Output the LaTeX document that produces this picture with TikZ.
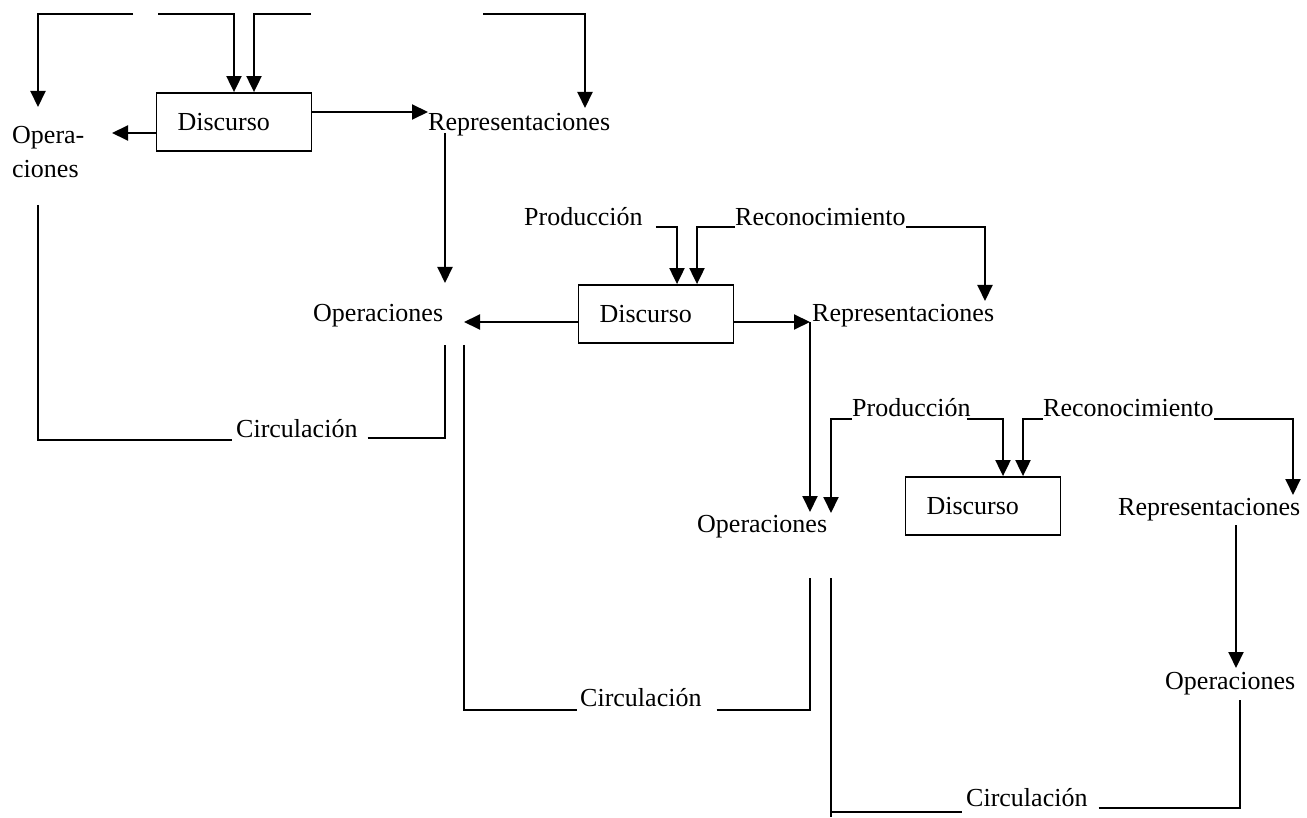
\documentclass[tikz,border=0pt]{standalone}
\usepackage{fontspec}
\setmainfont{Liberation Serif}
\usetikzlibrary{arrows.meta}

\begin{document}
\begin{tikzpicture}[x=1pt, y=-1pt, font=\fontsize{26}{32}\selectfont,
	box/.style={draw, line width=1.8pt, text width=113pt, inner xsep=21pt, inner ysep=0, minimum height=58pt, align=left},
	txt/.style={inner sep=0, anchor=base west},
	arr/.style={-{Triangle[length=16pt, width=15pt]}, line width=2pt},
	ln/.style={line width=1.8pt}]
	
	\useasboundingbox (0,0) rectangle (1307,818);
	
	% primer nivel
	% modules
	\node[box] (d1) at (234,122) {Discurso};
	\node[txt] (rep1) at (428,131) {Representaciones};
	\node[inner sep=0, anchor=north west, align=left, font=\fontsize{26}{34}\selectfont] (op1) at (12,126) {Opera-\\ciones};
	\node[txt] (circ1) at (236,437) {Circulación};
	% lines
	\coordinate (t1) at (133,14);
	\coordinate (t2) at (158,14);
	\coordinate (t3) at (311,14);
	\coordinate (t4) at (483,14);
	\coordinate (op1in) at (38,107);
	\coordinate (op1l) at (112,133);
	\coordinate (op1out) at (38,205);
	\coordinate (rep1in) at (585,108);
	\coordinate (rep1out) at (445,133);
	
	\draw [arr] (t1) -| (op1in);
	\draw [arr] (t2) -| (d1.north);
	\draw [arr] (t3) -| ([xshift=20pt]d1.north);
	\draw [arr] (t4) -| (rep1in);
	\draw [arr] ([yshift=10pt]d1.east) -- ([yshift=10pt]d1.east -| rep1.west);
	\draw [arr] ([yshift=-11pt]d1.west) -- (op1l);
	
	% segundo nivel
	% modules
	\node[box] (d2) at (656,314) {Discurso};
	\node[txt] (op2) at (313,322) {Operaciones};
	\node[txt] (rep2) at (812,322) {Representaciones};
	\node[txt] (prod2) at (524,226) {Producción};
	\node[txt] (rec2) at (735,226) {Reconocimiento};
	\node[txt] (circ2) at (580,706) {Circulación};
	% lines
	\coordinate (op2in) at (445,283);
	\coordinate (op2l) at (464,322);
	\coordinate (op2out) at (445,345);
	\coordinate (op2out2) at (464,345);
	\coordinate (rep2in) at (985,301);
	\coordinate (rep2out) at (810,322);
	
	\draw [arr] (rep1out) -- (op2in);
	\draw [ln] (op1out) |- ([xshift=-4pt, yshift=-3pt]circ1.base west);
	\draw [ln] ([xshift=10pt, yshift=-1pt]circ1.base east) -| (op2out);
	
	\draw [arr] ([xshift=13pt, yshift=-1pt]prod2.base east) -| ([xshift=21pt]d2.north);
	\draw [arr] ([yshift=-1pt]rec2.base west) -| ([xshift=41pt]d2.north);
	\draw [arr] ([yshift=-1pt]rec2.base east) -| (rep2in);
	\draw [arr] ([yshift=-8pt]d2.west) -- (op2l);
	\draw [arr] ([yshift=-8pt]d2.east) -- (rep2out);
	
	% tercer nivel
	% modules
	\node[box] (d3) at (983,506) {Discurso};
	\node[txt] (op3) at (697,532) {Operaciones};
	\node[txt] (rep3) at (1118,515) {Representaciones};
	\node[txt] (prod3) at (852,416) {Producción};
	\node[txt] (rec3) at (1043,416) {Reconocimiento};
	\node[txt] (op4) at (1165,689) {Operaciones};
	\node[txt] (circ3) at (966,806) {Circulación};
	% lines
	\coordinate (op3in) at (810,512);
	\coordinate (op3in2) at (831,513);
	\coordinate (op3out) at (810,578);
	\coordinate (op3out2) at (831,578);
	\coordinate (op3end) at (831,817);
	\coordinate (rep3in) at (1293,495);
	\coordinate (rep3out) at (1236,525);
	\coordinate (op4in) at (1236,668);
	\coordinate (op4out) at (1240,700);
	
	\draw [arr] (rep2out) -- (op3in);
	\draw [ln] (op2out2) |- ([xshift=-3pt, yshift=-4pt]circ2.base west);
	\draw [ln] ([xshift=15pt, yshift=-4pt]circ2.base east) -| (op3out);
	
	\draw [arr] ([yshift=-3pt]prod3.base west) -| (op3in2);
	\draw [arr] ([xshift=-4pt, yshift=-3pt]prod3.base east) -| ([xshift=20pt]d3.north);
	\draw [arr] ([yshift=-3pt]rec3.base west) -| ([xshift=40pt]d3.north);
	\draw [arr] ([yshift=-3pt]rec3.base east) -| (rep3in);
	\draw [arr] (rep3out) -- (op4in);
	
	\draw [ln] (op3out2) -- (op3end);
	\draw [ln] ([yshift=5pt]op3end) -- ([xshift=-4pt, yshift=-6pt]circ3.base west);
	\draw [ln] ([xshift=11pt, yshift=-2pt]circ3.base east) -| (op4out);
\end{tikzpicture}
\end{document}
